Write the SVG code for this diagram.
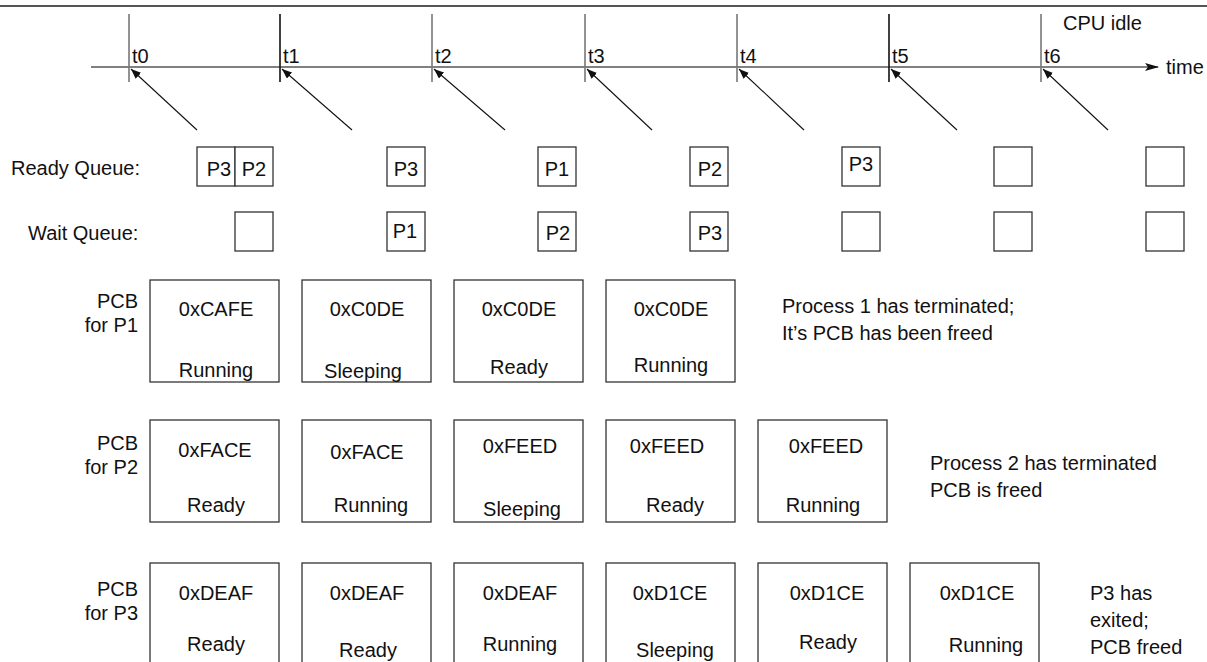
<svg xmlns="http://www.w3.org/2000/svg" width="1207" height="662" viewBox="0 0 1207 662">
<style>
text{font-family:"Liberation Sans",Arial,sans-serif;font-size:20px;fill:#111}
.m{text-anchor:middle}
.e{text-anchor:end}
.box{fill:#fff;stroke:#333;stroke-width:1.3}
.tick{stroke:#777;stroke-width:1.6}
.tickd{stroke:#111;stroke-width:1.6}
.ptr{stroke:#111;stroke-width:1.1;fill:none;marker-end:url(#ah)}
</style>
<defs>
<marker id="ah" viewBox="0 0 10 8" refX="10" refY="4" markerWidth="10" markerHeight="8" markerUnits="userSpaceOnUse" orient="auto"><path d="M0,0 L10,4 L0,8 Z" fill="#111"/></marker>
<marker id="ta" viewBox="0 0 14 8" refX="13" refY="4" markerWidth="14" markerHeight="8" markerUnits="userSpaceOnUse" orient="auto"><path d="M0,0 L14,4 L0,8 L3,4 Z" fill="#111"/></marker>
</defs>
<rect width="1207" height="662" fill="#fff"/>
<line x1="0" y1="6" x2="1207" y2="6" stroke="#555" stroke-width="2"/>

<g id="timeline">
<line x1="91" y1="67" x2="1158" y2="67" stroke="#808080" stroke-width="2" marker-end="url(#ta)"/>
<text x="1166" y="74">time</text>
<text x="1063" y="30">CPU idle</text>
<line class="tick" x1="129" y1="14" x2="129" y2="82"/>
<line class="tickd" x1="280" y1="14" x2="280" y2="82"/>
<line class="tick" x1="432" y1="14" x2="432" y2="82"/>
<line class="tick" x1="585" y1="14" x2="585" y2="82"/>
<line class="tick" x1="737" y1="14" x2="737" y2="82"/>
<line class="tickd" x1="889" y1="14" x2="889" y2="82"/>
<line class="tick" x1="1041" y1="14" x2="1041" y2="82"/>
<text x="132" y="63">t0</text>
<text x="283" y="63">t1</text>
<text x="435" y="63">t2</text>
<text x="588" y="63">t3</text>
<text x="740" y="63">t4</text>
<text x="892" y="63">t5</text>
<text x="1044" y="63">t6</text>
</g>

<g id="connectors">
<line class="ptr" x1="197" y1="130" x2="131" y2="69"/>
<line class="ptr" x1="352" y1="130" x2="282" y2="69"/>
<line class="ptr" x1="505" y1="130" x2="434" y2="69"/>
<line class="ptr" x1="652" y1="130" x2="587" y2="69"/>
<line class="ptr" x1="804" y1="130" x2="739" y2="69"/>
<line class="ptr" x1="957" y1="130" x2="891" y2="69"/>
<line class="ptr" x1="1108" y1="130" x2="1043" y2="69"/>
</g>

<g id="ready-queue">
<text x="11" y="175">Ready Queue:</text>
<rect class="box" x="197" y="147" width="38" height="39"/>
<rect class="box" x="235" y="147" width="38" height="39"/>
<text class="m" x="219" y="176">P3</text>
<text class="m" x="254" y="176">P2</text>
<rect class="box" x="387" y="147" width="38" height="39"/>
<text class="m" x="406" y="176">P3</text>
<rect class="box" x="538" y="147" width="38" height="39"/>
<text class="m" x="557" y="176">P1</text>
<rect class="box" x="690" y="147" width="38" height="39"/>
<text class="m" x="710" y="176">P2</text>
<rect class="box" x="842" y="147" width="38" height="39"/>
<text class="m" x="861" y="171">P3</text>
<rect class="box" x="994" y="147" width="38" height="39"/>
<rect class="box" x="1146" y="147" width="38" height="39"/>
</g>

<g id="wait-queue">
<text x="28" y="240">Wait Queue:</text>
<rect class="box" x="235" y="212" width="38" height="39"/>
<rect class="box" x="387" y="212" width="38" height="39"/>
<text class="m" x="405" y="238">P1</text>
<rect class="box" x="538" y="212" width="38" height="39"/>
<text class="m" x="558" y="240">P2</text>
<rect class="box" x="690" y="212" width="38" height="39"/>
<text class="m" x="710" y="240">P3</text>
<rect class="box" x="842" y="212" width="38" height="39"/>
<rect class="box" x="994" y="212" width="38" height="39"/>
<rect class="box" x="1146" y="212" width="38" height="39"/>
</g>

<g id="pcb-p1">
<text class="e" x="138" y="308">PCB</text>
<text class="e" x="138" y="332">for P1</text>
<rect class="box" x="150" y="280" width="129" height="102"/>
<text class="m" x="216" y="316">0xCAFE</text>
<text class="m" x="216" y="377">Running</text>
<rect class="box" x="302" y="280" width="129" height="102"/>
<text class="m" x="367" y="316">0xC0DE</text>
<text class="m" x="363" y="378">Sleeping</text>
<rect class="box" x="454" y="280" width="129" height="102"/>
<text class="m" x="519" y="316">0xC0DE</text>
<text class="m" x="519" y="374">Ready</text>
<rect class="box" x="606" y="280" width="129" height="102"/>
<text class="m" x="671" y="316">0xC0DE</text>
<text class="m" x="671" y="372">Running</text>
<text x="782" y="313">Process 1 has terminated;</text>
<text x="782" y="340">It’s PCB has been freed</text>
</g>

<g id="pcb-p2">
<text class="e" x="138" y="450">PCB</text>
<text class="e" x="138" y="474">for P2</text>
<rect class="box" x="150" y="420" width="129" height="102"/>
<text class="m" x="215" y="457">0xFACE</text>
<text class="m" x="216" y="512">Ready</text>
<rect class="box" x="302" y="420" width="129" height="102"/>
<text class="m" x="367" y="459">0xFACE</text>
<text class="m" x="371" y="512">Running</text>
<rect class="box" x="454" y="420" width="129" height="102"/>
<text class="m" x="520" y="453">0xFEED</text>
<text class="m" x="522" y="516">Sleeping</text>
<rect class="box" x="606" y="420" width="129" height="102"/>
<text class="m" x="667" y="453">0xFEED</text>
<text class="m" x="675" y="512">Ready</text>
<rect class="box" x="758" y="420" width="129" height="102"/>
<text class="m" x="826" y="453">0xFEED</text>
<text class="m" x="823" y="512">Running</text>
<text x="930" y="470">Process 2 has terminated</text>
<text x="930" y="497">PCB is freed</text>
</g>

<g id="pcb-p3">
<text class="e" x="138" y="596">PCB</text>
<text class="e" x="138" y="620">for P3</text>
<rect class="box" x="150" y="563" width="129" height="110"/>
<text class="m" x="216" y="600">0xDEAF</text>
<text class="m" x="216" y="651">Ready</text>
<rect class="box" x="302" y="563" width="129" height="110"/>
<text class="m" x="367" y="600">0xDEAF</text>
<text class="m" x="368" y="657">Ready</text>
<rect class="box" x="454" y="563" width="129" height="110"/>
<text class="m" x="520" y="600">0xDEAF</text>
<text class="m" x="520" y="651">Running</text>
<rect class="box" x="606" y="563" width="129" height="110"/>
<text class="m" x="670" y="600">0xD1CE</text>
<text class="m" x="675" y="657">Sleeping</text>
<rect class="box" x="758" y="563" width="129" height="110"/>
<text class="m" x="827" y="600">0xD1CE</text>
<text class="m" x="828" y="649">Ready</text>
<rect class="box" x="910" y="563" width="129" height="110"/>
<text class="m" x="977" y="600">0xD1CE</text>
<text class="m" x="986" y="652">Running</text>
<text x="1090" y="600">P3 has</text>
<text x="1090" y="627">exited;</text>
<text x="1090" y="654">PCB freed</text>
</g>
</svg>
